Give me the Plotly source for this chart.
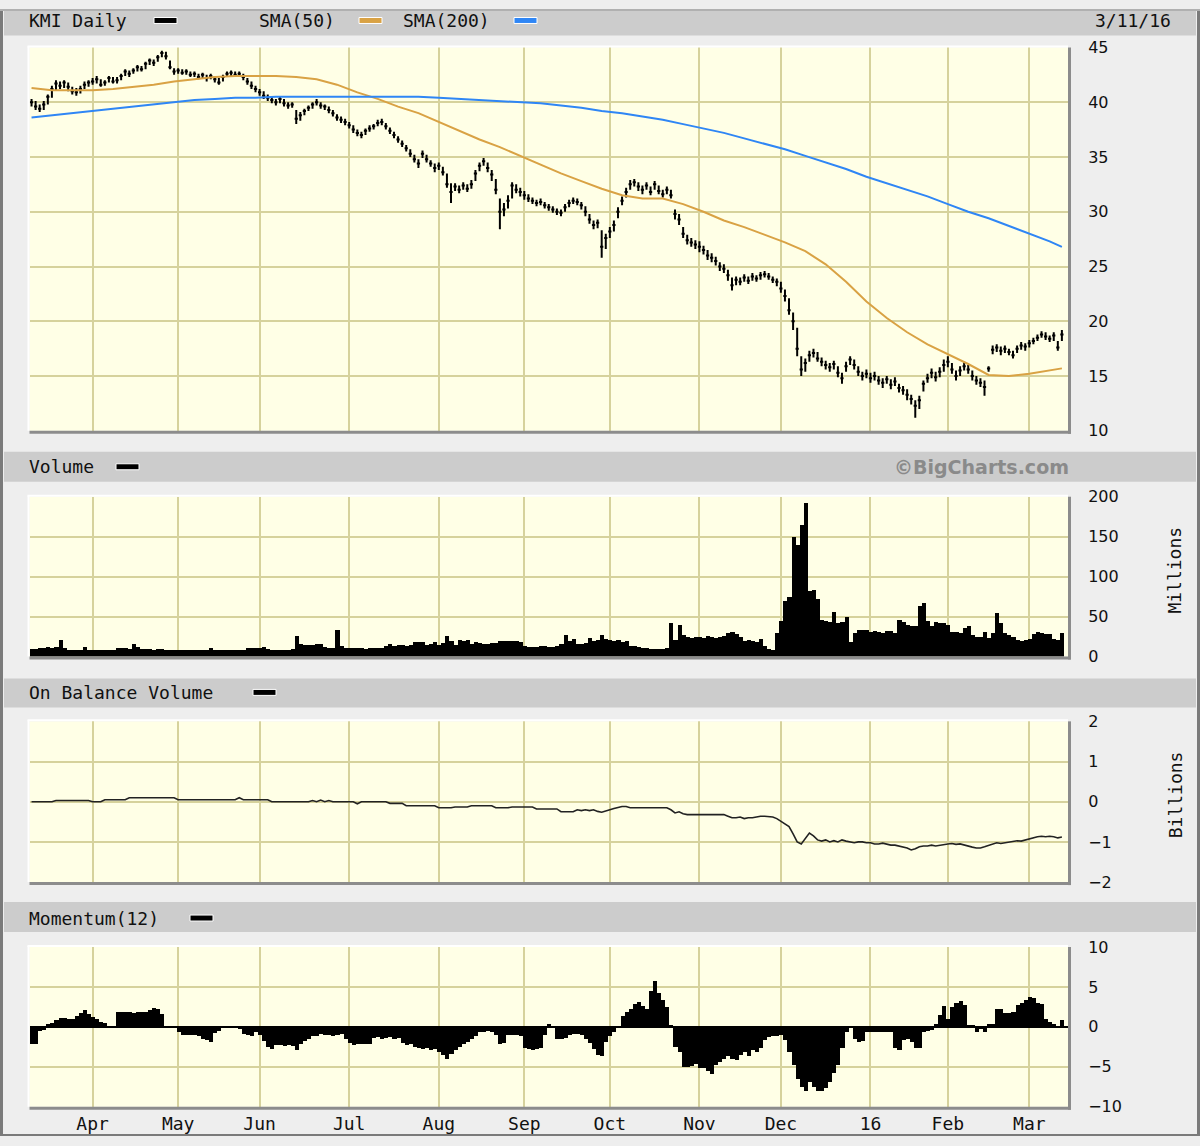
import pandas as pd
import plotly.graph_objects as go

W, H = 1200, 1146

# ---------------- trading calendar (x categories) ----------------
holidays = ["2015-04-03", "2015-05-25", "2015-07-03", "2015-09-07", "2015-11-26",
            "2015-12-25", "2016-01-01", "2016-01-18", "2016-02-15"]
dates = [d.strftime("%Y-%m-%d") for d in pd.bdate_range("2015-03-11", "2016-03-11")
         if d.strftime("%Y-%m-%d") not in holidays]

tick_dates = ["2015-04-01", "2015-05-01", "2015-06-01", "2015-07-01", "2015-08-03", "2015-09-01",
              "2015-10-01", "2015-11-02", "2015-12-01", "2016-01-04", "2016-02-01", "2016-03-01"]
tick_text = ["Apr", "May", "Jun", "Jul", "Aug", "Sep", "Oct", "Nov", "Dec", "16", "Feb", "Mar"]

# ---------------- KMI daily prices ----------------
close = [
    40.0, 39.6, 39.4, 39.8, 40.5, 41.2, 41.7, 41.5, 41.8, 41.4, 41.0, 40.9, 41.2, 41.6, 41.8,
    41.9, 42.1, 41.6, 41.8, 42.2, 41.9, 42.0, 42.4, 42.8, 42.6, 42.9, 43.2, 43.0, 43.5, 43.8, 43.6, 44.1, 44.5, 44.2, 43.2, 42.8,
    42.9, 42.7, 42.8, 42.5, 42.6, 42.3, 42.5, 42.2, 42.4, 42.1, 41.8, 42.3, 42.6, 42.7, 42.5, 42.6, 42.3, 41.9, 41.5, 41.2,
    40.9, 40.6, 40.4, 40.2, 40.0, 40.3, 39.9, 39.7, 39.8, 38.5, 38.8, 39.2, 39.5, 39.8, 40.0, 39.7, 39.6, 39.3, 39.0, 38.6, 38.4, 38.2,
    37.9, 37.5, 37.2, 37.0, 37.4, 37.6, 37.8, 38.1, 38.2, 37.8, 37.4, 37.0, 36.6, 36.2, 35.8, 35.3, 34.8, 34.4, 35.3, 34.8, 34.4, 34.0,
    34.2, 33.6, 32.5, 31.8, 32.3, 32.0, 32.4, 32.1, 32.5, 33.5, 34.2, 34.6, 34.0, 33.4, 32.0, 30.0, 30.2, 31.0, 32.4, 32.0, 31.8,
    31.5, 31.2, 31.0, 30.8, 30.9, 30.6, 30.4, 30.2, 30.0, 29.9, 30.4, 30.8, 31.0, 30.9, 30.6, 30.0, 29.3, 28.8, 29.0, 26.8, 27.6,
    28.2, 28.8, 30.0, 31.0, 31.8, 32.5, 32.7, 32.3, 32.0, 32.4, 31.8, 32.5, 31.9, 31.6, 32.0, 31.5, 29.8, 29.3, 28.0, 27.4, 27.2, 27.0,
    26.8, 26.5, 26.0, 25.8, 25.5, 25.0, 24.8, 24.2, 23.3, 23.8, 23.6, 24.0, 23.7, 24.1, 23.9, 24.2, 24.3, 24.1, 23.8, 23.6,
    23.0, 22.3, 21.0, 20.0, 17.5, 15.6, 16.2, 16.9, 17.1, 16.6, 16.3, 16.0, 15.8, 16.1, 15.3, 14.8, 15.9, 16.5, 16.0, 15.4, 15.0, 15.2,
    14.8, 15.0, 14.6, 14.4, 14.7, 14.2, 14.5, 13.9, 13.7, 13.3, 12.9, 12.3, 12.8, 14.3, 14.8, 15.3, 14.9, 15.4, 16.0,
    16.3, 15.6, 15.0, 15.5, 15.9, 15.6, 15.0, 14.6, 14.4, 14.0, 15.7, 17.4, 17.6, 17.3, 17.5, 17.2, 16.9, 17.5, 17.8, 17.7,
    18.0, 18.2, 18.5, 18.8, 18.6, 18.4, 18.7, 17.6, 18.8,
]
high = [
    40.3, 40.1, 39.8, 40.1, 40.7, 41.5, 42.0, 41.9, 42.0, 41.8, 41.4, 41.3, 41.5, 41.9, 42.0,
    42.2, 42.4, 42.1, 42.0, 42.4, 42.3, 42.3, 42.6, 43.0, 42.9, 43.1, 43.4, 43.3, 43.7, 44.0, 43.9, 44.3, 44.7, 44.6, 43.8, 43.1,
    43.1, 43.0, 43.0, 42.8, 42.8, 42.6, 42.7, 42.5, 42.6, 42.4, 42.2, 42.5, 42.8, 42.9, 42.8, 42.8, 42.6, 42.2, 41.9, 41.5,
    41.2, 41.0, 40.7, 40.5, 40.3, 40.5, 40.3, 40.0, 40.0, 39.3, 39.1, 39.4, 39.7, 40.0, 40.3, 40.0, 39.8, 39.6, 39.3, 38.9, 38.7, 38.5,
    38.2, 37.9, 37.5, 37.3, 37.6, 37.9, 38.0, 38.4, 38.5, 38.1, 37.7, 37.3, 36.9, 36.5, 36.1, 35.7, 35.2, 34.8, 35.6, 35.2, 34.7, 34.4,
    34.5, 34.1, 33.5, 32.6, 32.6, 32.4, 32.7, 32.5, 32.9, 33.8, 34.5, 34.9, 34.5, 33.8, 33.0, 31.2, 30.8, 31.5, 32.7, 32.5, 32.2,
    31.9, 31.6, 31.3, 31.1, 31.2, 30.9, 30.7, 30.5, 30.3, 30.2, 30.7, 31.1, 31.3, 31.2, 30.9, 30.5, 29.8, 29.2, 29.3, 28.3, 28.0,
    28.6, 29.2, 30.4, 31.4, 32.2, 32.9, 33.0, 32.7, 32.4, 32.7, 32.3, 32.8, 32.4, 32.0, 32.3, 32.0, 30.2, 29.8, 28.6, 27.9, 27.6, 27.4,
    27.3, 26.9, 26.5, 26.2, 25.9, 25.4, 25.2, 24.7, 24.0, 24.1, 24.0, 24.3, 24.1, 24.4, 24.2, 24.5, 24.6, 24.4, 24.1, 23.9,
    23.6, 22.9, 22.1, 20.8, 19.4, 16.8, 16.6, 17.3, 17.5, 17.2, 16.7, 16.4, 16.2, 16.4, 15.9, 15.3, 16.3, 16.8, 16.5, 15.9, 15.4, 15.6,
    15.3, 15.4, 15.0, 14.8, 15.0, 14.7, 14.9, 14.3, 14.1, 13.8, 13.3, 12.8, 13.2, 14.6, 15.2, 15.7, 15.4, 15.8, 16.5,
    16.8, 16.2, 15.5, 15.9, 16.3, 16.0, 15.5, 15.0, 14.8, 14.6, 15.9, 17.8, 17.9, 17.7, 17.8, 17.5, 17.3, 17.8, 18.1, 18.0,
    18.3, 18.5, 18.8, 19.1, 19.0, 18.7, 19.0, 18.2, 19.2,
]
low = [
    39.6, 39.3, 39.1, 39.3, 39.8, 40.4, 41.1, 41.2, 41.3, 41.0, 40.7, 40.6, 40.8, 41.2, 41.4,
    41.6, 41.7, 41.4, 41.5, 41.8, 41.7, 41.7, 42.0, 42.4, 42.3, 42.6, 42.8, 42.8, 43.0, 43.4, 43.3, 43.7, 44.1, 43.9, 43.0, 42.5,
    42.6, 42.5, 42.5, 42.3, 42.3, 42.1, 42.2, 41.9, 42.1, 41.8, 41.6, 41.9, 42.3, 42.4, 42.3, 42.3, 42.0, 41.6, 41.2, 40.9,
    40.6, 40.3, 40.1, 39.9, 39.7, 39.9, 39.6, 39.4, 39.5, 38.0, 38.3, 38.8, 39.2, 39.4, 39.7, 39.4, 39.3, 39.0, 38.7, 38.3, 38.1, 37.9,
    37.6, 37.2, 36.9, 36.7, 37.0, 37.3, 37.5, 37.8, 37.9, 37.5, 37.1, 36.7, 36.3, 35.9, 35.5, 35.0, 34.5, 34.0, 34.9, 34.5, 34.1, 33.6,
    33.8, 33.3, 32.2, 30.8, 31.9, 31.7, 32.0, 31.8, 32.1, 32.8, 33.7, 34.2, 33.6, 32.8, 31.6, 28.4, 29.6, 30.3, 31.2, 31.7, 31.4,
    31.1, 30.9, 30.7, 30.5, 30.6, 30.3, 30.1, 29.9, 29.7, 29.6, 30.0, 30.4, 30.7, 30.6, 30.2, 29.6, 28.9, 28.4, 28.5, 25.8, 26.6,
    27.6, 28.2, 29.4, 30.6, 31.3, 32.0, 32.3, 31.9, 31.6, 32.0, 31.5, 32.0, 31.6, 31.3, 31.6, 31.2, 29.3, 28.8, 27.6, 27.0, 26.8, 26.6,
    26.3, 26.1, 25.6, 25.4, 25.1, 24.6, 24.4, 23.7, 22.8, 23.3, 23.3, 23.6, 23.4, 23.7, 23.6, 23.8, 24.0, 23.8, 23.5, 23.2,
    22.6, 21.8, 20.6, 19.2, 16.8, 15.0, 15.4, 16.3, 16.7, 16.3, 15.9, 15.6, 15.4, 15.6, 14.9, 14.3, 15.4, 16.0, 15.6, 15.0, 14.6, 14.8,
    14.4, 14.6, 14.2, 13.9, 14.3, 13.8, 14.1, 13.5, 13.3, 12.8, 12.4, 11.2, 12.0, 13.6, 14.4, 14.8, 14.5, 14.9, 15.4,
    15.8, 15.2, 14.6, 15.0, 15.5, 15.2, 14.6, 14.2, 14.0, 13.2, 15.4, 17.0, 17.2, 16.9, 17.1, 16.9, 16.6, 17.1, 17.4, 17.3,
    17.6, 17.9, 18.2, 18.5, 18.3, 18.1, 18.2, 17.3, 18.2,
]

# ---------------- moving averages (read every 5 sessions) ----------------
sma_index = list(range(0, 251, 5)) + [253]
sma50 = [
    41.3, 41.1, 41.1, 41.1, 41.2, 41.4, 41.6, 41.9, 42.1, 42.3,
    42.4, 42.4, 42.4, 42.3, 42.1, 41.6, 40.9, 40.3, 39.6, 39.0,
    38.2, 37.4, 36.6, 35.9, 35.1, 34.3, 33.5, 32.8, 32.1, 31.5,
    31.2, 31.2, 30.7, 30.0, 29.2, 28.6, 27.9, 27.2, 26.4, 25.2,
    23.6, 21.8, 20.3, 19.0, 17.9, 17.0, 16.1, 15.1, 15.0, 15.2,
    15.5, 15.7,
]
sma200 = [
    38.6, 38.8, 39.0, 39.2, 39.4, 39.6, 39.8, 40.0, 40.2, 40.3,
    40.4, 40.4, 40.5, 40.5, 40.5, 40.5, 40.5, 40.5, 40.5, 40.5,
    40.4, 40.3, 40.2, 40.1, 40.0, 39.9, 39.7, 39.5, 39.2, 39.0,
    38.7, 38.4, 38.0, 37.6, 37.2, 36.7, 36.2, 35.7, 35.1, 34.5,
    33.9, 33.2, 32.6, 32.0, 31.4, 30.7, 30.0, 29.4, 28.7, 28.0,
    27.3, 26.8,
]

# ---------------- volume (millions) ----------------
volume = [
    10, 10, 11, 11, 12, 11, 12, 21, 11, 9, 8, 8, 8, 12, 8,
    8, 8, 9, 8, 8, 8, 11, 11, 11, 10, 16, 12, 10, 10, 10, 9, 10, 10, 9, 8, 8,
    8, 8, 8, 8, 8, 8, 8, 8, 11, 8, 8, 8, 8, 8, 8, 8, 8, 11, 11, 11,
    11, 12, 10, 8, 8, 8, 8, 8, 10, 26, 16, 15, 15, 15, 16, 16, 12, 11, 11, 34, 14, 11,
    11, 11, 11, 11, 10, 11, 11, 11, 11, 14, 16, 14, 15, 15, 14, 15, 19, 18, 19, 15, 16, 19,
    15, 17, 26, 20, 15, 21, 20, 21, 16, 19, 17, 16, 16, 17, 17, 20, 20, 20, 20, 20, 18,
    14, 12, 12, 12, 13, 13, 12, 12, 13, 16, 27, 20, 22, 16, 16, 17, 24, 20, 21, 27, 22,
    21, 20, 21, 18, 20, 14, 13, 12, 11, 11, 10, 10, 10, 10, 11, 42, 21, 40, 27, 25, 24, 25,
    25, 24, 26, 25, 24, 25, 26, 30, 31, 29, 25, 20, 21, 20, 19, 22, 14, 10, 8, 30,
    45, 70, 75, 150, 140, 165, 192, 82, 84, 72, 46, 45, 44, 56, 42, 44, 50, 19, 30, 34, 33, 33,
    31, 32, 31, 30, 32, 32, 30, 46, 44, 40, 39, 38, 63, 67, 45, 38, 44, 42, 42,
    40, 31, 31, 30, 36, 38, 27, 25, 25, 31, 24, 30, 55, 42, 30, 27, 25, 21, 20, 21,
    22, 28, 31, 30, 29, 28, 22, 21, 30,
]

# ---------------- on balance volume (billions) ----------------
obv = [
    0.0, 0.0, 0.0, 0.0, 0.0, 0.0, 0.03, 0.03, 0.03, 0.03, 0.03, 0.03, 0.03, 0.03, 0.03,
    0.0, 0.0, 0.0, 0.05, 0.05, 0.05, 0.05, 0.05, 0.05, 0.1, 0.1, 0.1, 0.1, 0.1, 0.1, 0.1, 0.1, 0.1, 0.1, 0.1, 0.1,
    0.05, 0.05, 0.05, 0.05, 0.05, 0.05, 0.05, 0.05, 0.05, 0.05, 0.05, 0.05, 0.05, 0.05, 0.05, 0.1, 0.05, 0.05, 0.05, 0.05,
    0.05, 0.05, 0.05, 0.0, 0.0, 0.0, 0.0, 0.0, 0.0, 0.0, 0.0, 0.0, 0.0, 0.03, 0.0, 0.04, 0.0, 0.03, 0.0, 0.0, 0.0, 0.0,
    0.0, 0.0, -0.05, 0.0, 0.0, 0.0, 0.0, 0.0, 0.0, 0.0, -0.04, -0.04, -0.04, -0.04, -0.1, -0.1, -0.1, -0.1, -0.1, -0.1, -0.1, -0.1,
    -0.15, -0.15, -0.15, -0.15, -0.13, -0.13, -0.13, -0.13, -0.1, -0.1, -0.1, -0.1, -0.1, -0.1, -0.15, -0.15, -0.15, -0.15, -0.13, -0.13, -0.13,
    -0.13, -0.13, -0.13, -0.18, -0.18, -0.18, -0.18, -0.18, -0.18, -0.25, -0.25, -0.25, -0.25, -0.2, -0.22, -0.2, -0.22, -0.2, -0.24, -0.26, -0.22,
    -0.2, -0.17, -0.14, -0.12, -0.12, -0.15, -0.15, -0.15, -0.15, -0.15, -0.15, -0.15, -0.15, -0.15, -0.15, -0.2, -0.28, -0.25, -0.3, -0.32, -0.32, -0.32,
    -0.32, -0.32, -0.32, -0.32, -0.32, -0.32, -0.32, -0.36, -0.4, -0.4, -0.38, -0.42, -0.4, -0.4, -0.38, -0.36, -0.36, -0.37, -0.38, -0.42,
    -0.48, -0.55, -0.62, -0.8, -1.0, -1.05, -0.9, -0.78, -0.85, -0.95, -0.98, -0.95, -1.0, -0.97, -1.0, -0.95, -0.98, -1.0, -1.02, -1.0, -1.0, -1.02,
    -1.02, -1.05, -1.05, -1.03, -1.05, -1.08, -1.08, -1.1, -1.12, -1.15, -1.2, -1.17, -1.12, -1.1, -1.1, -1.08, -1.1, -1.08, -1.06,
    -1.05, -1.04, -1.06, -1.05, -1.08, -1.1, -1.13, -1.15, -1.15, -1.12, -1.08, -1.05, -1.02, -1.04, -1.02, -1.0, -0.99, -0.97, -0.98, -0.95,
    -0.93, -0.9, -0.87, -0.86, -0.87, -0.86, -0.87, -0.9, -0.88,
]

# ---------------- momentum(12) ----------------
momentum = [
    -2.2, -2.2, -0.5, -0.4, 0.4, 0.5, 0.8, 1.1, 1.1, 1.0, 1.0, 1.4, 1.7, 2.1, 1.6,
    1.2, 1.0, 0.6, 0.5, 0.1, 0.1, 1.9, 1.9, 1.9, 1.8, 1.7, 1.8, 1.9, 1.9, 2.1, 2.4, 2.3, 1.6, 0.0, 0.0, 0.0,
    -0.6, -1.0, -1.0, -1.0, -1.0, -1.1, -1.5, -1.7, -1.9, -0.8, -0.5, -0.2, -0.2, -0.2, -0.2, -0.3, -0.9, -1.0, -1.1, -0.6,
    -1.0, -1.8, -2.5, -2.8, -2.3, -2.3, -2.4, -2.3, -2.4, -2.9, -2.1, -1.8, -1.5, -1.2, -1.1, -0.9, -1.0, -1.0, -1.1, -1.0, -0.9, -1.5,
    -2.0, -2.3, -2.2, -2.2, -2.2, -2.1, -1.4, -1.3, -1.5, -1.4, -1.3, -1.5, -1.4, -2.0, -2.3, -2.1, -2.5, -2.6, -2.8, -2.7, -2.9, -2.8,
    -3.2, -3.5, -4.0, -3.4, -2.9, -2.5, -2.1, -1.9, -1.5, -1.2, -0.6, -0.6, -0.5, -0.6, -1.0, -2.1, -2.0, -1.0, -1.0, -1.0, -1.2,
    -2.7, -2.8, -2.9, -2.8, -2.7, -1.0, 0.3, 0.0, -1.5, -1.5, -1.4, -1.0, -0.9, -0.9, -1.0, -1.5, -2.0, -2.8, -3.5, -3.6, -1.9,
    -1.2, -0.7, -0.2, 1.4, 1.8, 2.3, 2.9, 3.1, 2.6, 2.2, 4.5, 5.8, 4.2, 3.4, 2.5, 0.2, -2.5, -3.2, -5.0, -5.0, -4.9, -4.7,
    -5.2, -5.1, -5.5, -5.9, -4.8, -4.4, -4.0, -3.7, -4.0, -4.2, -3.5, -3.2, -3.6, -2.9, -3.2, -2.7, -1.6, -1.3, -1.1, -1.1,
    -1.0, -1.6, -3.2, -4.8, -6.5, -7.5, -8.0, -6.9, -7.5, -8.0, -8.0, -7.6, -6.9, -5.8, -4.8, -2.7, -0.6, -0.2, -1.5, -1.9, -1.8, -0.6,
    -0.6, -0.6, -0.6, -0.7, -0.6, -0.6, -2.7, -2.9, -1.6, -1.5, -1.9, -2.7, -2.6, -0.6, -0.5, -0.4, 0.4, 1.5, 2.6,
    1.0, 2.5, 3.0, 3.3, 2.8, 0.2, 0.2, -0.6, -0.3, -0.6, 0.4, 0.4, 2.3, 2.2, 1.7, 1.7, 1.8, 2.8, 3.0, 3.4,
    3.7, 3.6, 3.0, 2.9, 1.0, 0.6, 0.4, 0.0, 0.8,
]

n = len(dates)
for name, arr in [("close", close), ("high", high), ("low", low), ("volume", volume),
                  ("obv", obv), ("momentum", momentum)]:
    assert len(arr) == n, (name, len(arr), n)
assert len(sma50) == len(sma_index) == len(sma200)
sma_dates = [dates[i] for i in sma_index]

# ---------------- styling ----------------
PLOT_BG = "#ffffe6"
GRID = "#d6d29c"
PAGE = "#eeeeee"
HEADER = "#cccccc"
ORANGE = "#d9a244"
BLUE = "#2f86f5"
MONO = "DejaVu Sans Mono"
SANS = "DejaVu Sans"

# the photographed page is squeezed vertically a little; place items so they land where the reference has them
Y_OFF, Y_SCALE = 8.5, 0.985

X0, X1 = 29.5, 1068.0
panels = {  # top, bottom pixel rows of each plot area (reference pixels)
    "price": (47, 431),
    "vol": (497, 657),
    "obv": (722, 883),
    "mom": (948, 1108),
}


def fx(px):
    return px / W


def fy(py):
    page_y = (py - Y_OFF) / Y_SCALE
    return min(1.0, max(0.0, 1 - page_y / H))


def dom(key):
    t, b = panels[key]
    return [fy(b), fy(t)]


fig = go.Figure()

fig.add_trace(go.Ohlc(
    x=dates, open=close, high=high, low=low, close=close,
    increasing=dict(line=dict(color="black", width=2)),
    decreasing=dict(line=dict(color="black", width=2)),
    tickwidth=0.4, xaxis="x", yaxis="y", showlegend=False, name="KMI"))
fig.add_trace(go.Scatter(x=sma_dates, y=sma50, mode="lines", line=dict(color=ORANGE, width=2),
                         xaxis="x", yaxis="y", showlegend=False, name="SMA(50)"))
fig.add_trace(go.Scatter(x=sma_dates, y=sma200, mode="lines", line=dict(color=BLUE, width=2),
                         xaxis="x", yaxis="y", showlegend=False, name="SMA(200)"))
fig.add_trace(go.Bar(x=dates, y=volume, marker=dict(color="black", line=dict(width=0)),
                     xaxis="x2", yaxis="y2", showlegend=False, name="Volume"))
fig.add_trace(go.Scatter(x=dates, y=obv, mode="lines", line=dict(color="#222222", width=1.6),
                         xaxis="x3", yaxis="y3", showlegend=False, name="OBV"))
fig.add_trace(go.Bar(x=dates, y=momentum, marker=dict(color="black", line=dict(width=0)),
                     xaxis="x4", yaxis="y4", showlegend=False, name="Momentum(12)"))

xcommon = dict(
    domain=[fx(X0), fx(X1)], type="category", categoryorder="array", categoryarray=dates,
    range=[-0.5, n + 0.5], tickmode="array", tickvals=tick_dates, ticktext=tick_text,
    showgrid=True, gridcolor=GRID, gridwidth=2, zeroline=False, showline=False,
    fixedrange=True,
)
ycommon = dict(
    side="right", showgrid=True, gridcolor=GRID, gridwidth=2, zeroline=False, showline=False,
    ticks="outside", ticklen=16, tickcolor="rgba(0,0,0,0)",
    tickfont=dict(family=SANS, size=16, color="#111111"), fixedrange=True,
)

fig.update_layout(
    width=W, height=H, margin=dict(l=0, r=0, t=0, b=0),
    paper_bgcolor=PAGE, plot_bgcolor=PLOT_BG, bargap=0, showlegend=False,
    xaxis=dict(xcommon, anchor="y", showticklabels=False, rangeslider=dict(visible=False)),
    xaxis2=dict(xcommon, anchor="y2", showticklabels=False),
    xaxis3=dict(xcommon, anchor="y3", showticklabels=False),
    xaxis4=dict(xcommon, anchor="y4", showticklabels=True, ticks="outside", ticklen=1,
                tickcolor="rgba(0,0,0,0)", tickfont=dict(family=MONO, size=18, color="#111111")),
    yaxis=dict(ycommon, domain=dom("price"), anchor="x", range=[10, 45],
               tickvals=[10, 15, 20, 25, 30, 35, 40, 45]),
    yaxis2=dict(ycommon, domain=dom("vol"), anchor="x2", range=[0, 200],
                tickvals=[0, 50, 100, 150, 200]),
    yaxis3=dict(ycommon, domain=dom("obv"), anchor="x3", range=[-2, 2],
                tickvals=[-2, -1, 0, 1, 2]),
    yaxis4=dict(ycommon, domain=dom("mom"), anchor="x4", range=[-10, 10],
                tickvals=[-10, -5, 0, 5, 10], zeroline=True, zerolinecolor="black", zerolinewidth=1.5),
)

shapes = []


def rect(x0, y0, x1, y1, fill, line=None, lw=0, layer="below"):
    shapes.append(dict(type="rect", xref="paper", yref="paper",
                       x0=fx(x0), x1=fx(x1), y0=fy(y1), y1=fy(y0),
                       fillcolor=fill, line=dict(color=line or fill, width=lw), layer=layer))


def hline(x0, x1, y, color, width):
    shapes.append(dict(type="line", xref="paper", yref="paper", x0=fx(x0), x1=fx(x1),
                       y0=fy(y), y1=fy(y), line=dict(color=color, width=width), layer="above"))


def vline(x, y0, y1, color, width):
    shapes.append(dict(type="line", xref="paper", yref="paper", x0=fx(x), x1=fx(x),
                       y0=fy(y0), y1=fy(y1), line=dict(color=color, width=width), layer="above"))


# header bands
for (t, b) in [(5, 35), (452, 482), (679, 708), (903, 933)]:
    rect(4, t, 1196, b, HEADER)

# plot area bevel: light top/left, dark right/bottom
for key, (t, b) in panels.items():
    hline(X0 - 2, X1, t - 1, "#ffffff", 2)
    vline(X0 - 1, t - 1, b, "#ffffff", 2)
    vline(X1 + 1.5, t, b + 3, "#8c8c8c", 3)
    hline(X0, X1 + 3, b + 1.5, "#8c8c8c", 3)

# outer frame (kept beneath tick labels)
shapes.append(dict(type="line", xref="paper", yref="paper", x0=fx(1.5), x1=fx(1.5), y0=0, y1=1,
                   line=dict(color="#7a7a7a", width=3), layer="below"))
shapes.append(dict(type="line", xref="paper", yref="paper", x0=fx(W - 1.5), x1=fx(W - 1.5), y0=0, y1=1,
                   line=dict(color="#7a7a7a", width=3), layer="below"))
shapes.append(dict(type="line", xref="paper", yref="paper", x0=0, x1=1, y0=1 / H, y1=1 / H,
                   line=dict(color="#7a7a7a", width=2), layer="below"))
shapes.append(dict(type="line", xref="paper", yref="paper", x0=0, x1=1, y0=1 - 1 / H, y1=1 - 1 / H,
                   line=dict(color="#b0b0b0", width=2), layer="below"))

# legend swatches
for (x0, y0, col) in [(154, 17, "black"), (359, 17, ORANGE), (514, 17, BLUE),
                      (116, 464, "black"), (253, 690, "black"), (190, 916, "black")]:
    rect(x0, y0, x0 + 23, y0 + 6, col, line="#ffffff", lw=1, layer="above")

fig.update_layout(shapes=shapes)


def label(text, x, y, anchor="left", size=18, family=MONO, color="#111111", angle=0, bold=False):
    fig.add_annotation(x=fx(x), y=fy(y), xref="paper", yref="paper", text=f"<b>{text}</b>" if bold else text,
                       showarrow=False, xanchor=anchor, yanchor="middle", textangle=angle,
                       font=dict(family=family, size=size, color=color), borderpad=0)


label("KMI Daily", 28, 20)
label("SMA(50)", 258, 20)
label("SMA(200)", 402, 20)
label("3/11/16", 1172, 20, anchor="right")
label("Volume", 28, 467)
label("©BigCharts.com", 1070, 467, anchor="right", size=19, family=SANS, color="#8a8a8a", bold=True)
label("On Balance Volume", 28, 693)
label("Momentum(12)", 28, 919)
label("Millions", 1175, 571, anchor="center", angle=-90)
label("Billions", 1175, 796, anchor="center", angle=-90)

fig.write_html(
    "out.html",
    config={"displayModeBar": False, "responsive": False},
    post_script=(
        "document.documentElement.style.margin='0';document.documentElement.style.background='#eeeeee';"
        "document.body.style.margin='0';document.body.style.padding='0';document.body.style.background='#eeeeee';"
        "document.documentElement.style.overflow='hidden';document.body.style.overflow='hidden';"
        "var gd=document.getElementById('{plot_id}');"
        "gd.style.position='fixed';gd.style.left='0px';gd.style.top='0px';"
    ),
)
